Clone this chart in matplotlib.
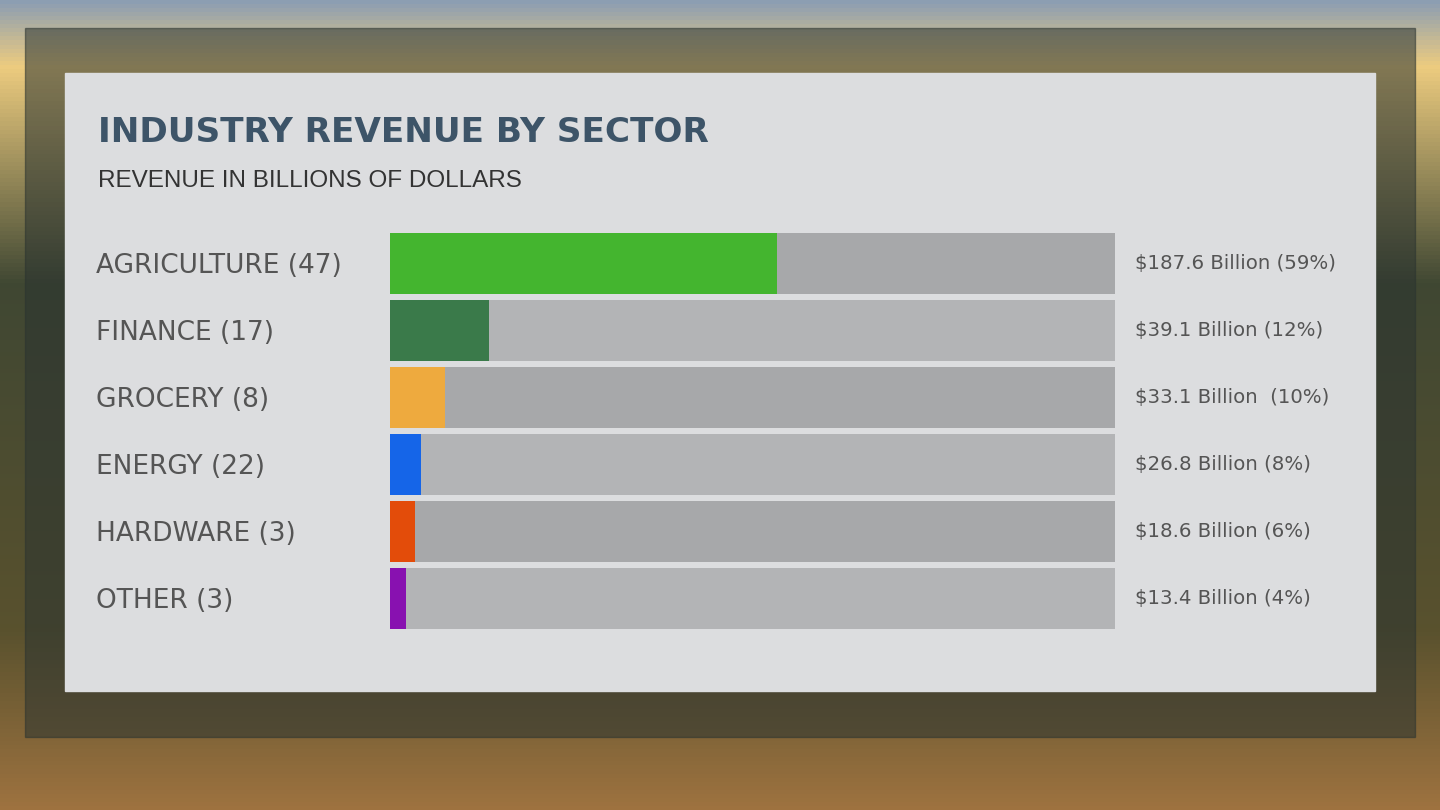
import numpy as np
import matplotlib.pyplot as plt
from matplotlib.patches import Rectangle

sectors = ["AGRICULTURE (47)", "FINANCE (17)", "GROCERY (8)", "ENERGY (22)", "HARDWARE (3)", "OTHER (3)"]
fill_pct = [53.4, 13.7, 7.6, 4.3, 3.4, 2.2]
value_labels = ["$187.6 Billion (59%)", "$39.1 Billion (12%)", "$33.1 Billion  (10%)",
                "$26.8 Billion (8%)", "$18.6 Billion (6%)", "$13.4 Billion (4%)"]
colors = ["#44b52f", "#3a7a4a", "#eeaa3e", "#1565e8", "#e34c0a", "#8811b0"]
track_colors = ["#a7a8aa", "#b3b4b6", "#a7a8aa", "#b3b4b6", "#a7a8aa", "#b3b4b6"]

fig = plt.figure(figsize=(14.4, 8.1), dpi=100)

# background imitation of the photo (sky, tree line, field)
bg = fig.add_axes([0, 0, 1, 1])
bg.set_xlim(0, 1440)
bg.set_ylim(810, 0)
bg.axis("off")
stops = [0.0, 0.08, 0.35, 0.78, 1.0]
stop_cols = np.array([[0.55, 0.62, 0.70], [0.93, 0.80, 0.50], [0.25, 0.28, 0.20],
                      [0.35, 0.32, 0.18], [0.62, 0.45, 0.25]])
t = np.linspace(0, 1, 200)
img = np.stack([np.interp(t, stops, stop_cols[:, k]) for k in range(3)], axis=-1)[:, None, :]
bg.imshow(img, extent=(0, 1440, 810, 0), aspect="auto", zorder=0)
bg.add_patch(Rectangle((25, 28), 1390, 709, color="#2a3330", alpha=0.55, zorder=1))
bg.add_patch(Rectangle((65, 73), 1310, 618, color="#dcdddf", zorder=2))

bg.text(98, 133, "INDUSTRY REVENUE BY SECTOR", fontsize=24.7, fontweight="bold",
        color="#3d5468", va="center", ha="left", zorder=3)
bg.text(98, 181, "REVENUE IN BILLIONS OF DOLLARS", fontsize=17.5, family="Liberation Sans",
        color="#333333", va="center", ha="left", zorder=3)

# bar area
ax = fig.add_axes([390 / 1440, 1 - 632 / 810, 725 / 1440, 402 / 810])
ax.set_xlim(0, 100)
ax.set_ylim(len(sectors) - 0.5, -0.5)
ax.axis("off")
y = np.arange(len(sectors))
ax.barh(y, [100] * len(sectors), height=0.91, color=track_colors)
ax.barh(y, fill_pct, height=0.91, color=colors)
for i, (s, v) in enumerate(zip(sectors, value_labels)):
    ax.text((96 - 390) / 725, i + 0.04, s, transform=ax.get_yaxis_transform(), ha="left",
            va="center", fontsize=19, color="#555555")
    ax.text(1.028, i, v, transform=ax.get_yaxis_transform(), ha="left", va="center",
            fontsize=14.2, color="#555555")

fig.savefig("out.png", dpi=100)
